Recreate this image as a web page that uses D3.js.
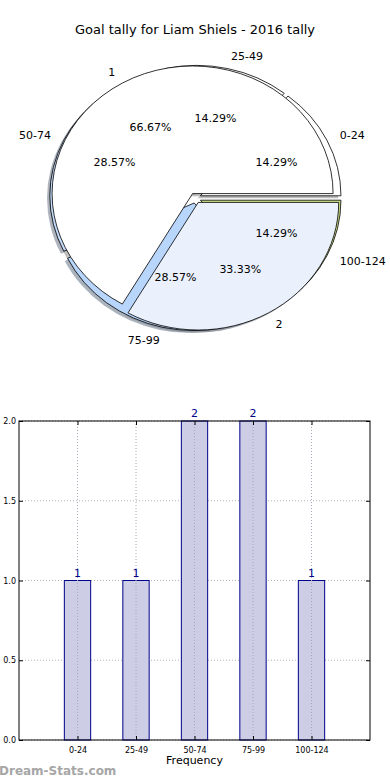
<!DOCTYPE html>
<html>
<head>
<meta charset="utf-8">
<script src="https://cdn.jsdelivr.net/npm/d3@7"></script>
<style>
  body { margin: 0; background: #fff; }
  text { font-family: "DejaVu Sans", sans-serif; }
</style>
</head>
<body>
<script>
// data
var bins = ["0-24", "25-49", "50-74", "75-99", "100-124"];
var binCounts = [1, 1, 2, 2, 1];
var tallyLabels = ["1", "2"];
var tallyCounts = [2, 1];
var yTicks = [0, 0.5, 1, 1.5, 2];

// colours
var outerColors = ["#ffffff", "#ffffff", "#c4dbf9", "#b8d5fb", "#cddf86"];
var innerColors = ["#ffffff", "#eaf1fd"];

var svg = d3.select("body").append("svg")
    .attr("width", 390).attr("height", 780);

svg.append("text")
    .attr("x", 195).attr("y", 34)
    .attr("text-anchor", "middle")
    .style("font-size", "13px")
    .text("Goal tally for Liam Shiels - 2016 tally");

/* ---------- pie (squashed, matplotlib style) ---------- */
var cx = 195.4, cy = 198, rx = 140.5, ry = 127.6;
var explode = 0.04;

var pie = d3.pie().sort(null).value(function(d) { return d; })
    .startAngle(Math.PI / 2).endAngle(Math.PI / 2 - 2 * Math.PI);
var arc = d3.arc().innerRadius(0).outerRadius(1);

function layout(values, labels, colors) {
    var total = d3.sum(values);
    return pie(values).map(function(a, i) {
        var m = (a.startAngle + a.endAngle) / 2;
        return {
            arc: a, label: labels[i], color: colors[i],
            pct: (100 * values[i] / total).toFixed(2) + "%",
            sx: Math.sin(m), sy: -Math.cos(m),
            ox: explode * Math.sin(m) * rx,
            oy: -explode * Math.cos(m) * ry
        };
    });
}

var outer = layout(binCounts, bins, outerColors);
var inner = layout(tallyCounts, tallyLabels, innerColors);

var shadowG = svg.append("g");
var outerG = svg.append("g");
var innerG = svg.append("g");
var labelG = svg.append("g");

function drawPie(slices, g) {
    shadowG.selectAll(null).data(slices).enter().append("path")
        .attr("d", function(d) { return arc(d.arc); })
        .attr("transform", function(d) {
            return "translate(" + (cx + d.ox - 0.02 * rx) + "," + (cy + d.oy + 0.02 * ry) + ") scale(" + rx + "," + ry + ")";
        })
        .attr("fill", function(d) { return d3.rgb(d.color).darker(1.7); })
        .attr("opacity", 0.55);

    g.selectAll(null).data(slices).enter().append("path")
        .attr("d", function(d) { return arc(d.arc); })
        .attr("transform", function(d) {
            return "translate(" + (cx + d.ox) + "," + (cy + d.oy) + ") scale(" + rx + "," + ry + ")";
        })
        .attr("fill", function(d) { return d.color; })
        .attr("stroke", "#000")
        .attr("stroke-width", 0.8)
        .attr("vector-effect", "non-scaling-stroke");

    labelG.selectAll(null).data(slices).enter().append("text")
        .attr("x", function(d) { return cx + d.ox + 1.1 * rx * d.sx; })
        .attr("y", function(d) { return cy + d.oy + 1.1 * ry * d.sy; })
        .attr("dy", "0.35em")
        .attr("text-anchor", function(d) { return d.sx > 0 ? "start" : "end"; })
        .style("font-size", "11px")
        .text(function(d) { return d.label; });

    labelG.selectAll(null).data(slices).enter().append("text")
        .attr("x", function(d) { return cx + d.ox + 0.6 * rx * d.sx; })
        .attr("y", function(d) { return cy + d.oy + 0.6 * ry * d.sy; })
        .attr("dy", "0.35em")
        .attr("text-anchor", "middle")
        .style("font-size", "11px")
        .text(function(d) { return d.pct; });
}

drawPie(outer, outerG);
drawPie(inner, innerG);

/* ---------- bar chart ---------- */
var plotL = 19, plotR = 370, plotT = 421, plotB = 740;
var x = d3.scaleLinear().domain([-1, bins.length]).range([plotL, plotR]);
var y = d3.scaleLinear().domain([0, 2]).range([plotB, plotT]);
var bw = x(0.225) - x(-0.225);

var chart = svg.append("g");

// grid
chart.selectAll(null).data(yTicks).enter().append("line")
    .attr("x1", plotL).attr("x2", plotR)
    .attr("y1", function(d) { return y(d); }).attr("y2", function(d) { return y(d); })
    .attr("stroke", "#b4b4b4").attr("stroke-width", 1).attr("stroke-dasharray", "1,2");

chart.selectAll("rect.bar").data(binCounts).enter().append("rect")
    .attr("class", "bar")
    .attr("x", function(d, i) { return x(i) - bw / 2; })
    .attr("y", function(d) { return y(d); })
    .attr("width", bw)
    .attr("height", function(d) { return y(0) - y(d); })
    .attr("fill", "#cdcde5")
    .attr("stroke", "#00008b").attr("stroke-width", 1);

chart.selectAll(null).data(bins).enter().append("line")
    .attr("x1", function(d, i) { return x(i); }).attr("x2", function(d, i) { return x(i); })
    .attr("y1", plotT).attr("y2", plotB)
    .attr("stroke", "#a8a8b8").attr("stroke-width", 1).attr("stroke-dasharray", "1,2");

chart.selectAll(null).data(binCounts).enter().append("text")
    .attr("x", function(d, i) { return x(i); })
    .attr("y", function(d) { return y(d) - 4; })
    .attr("text-anchor", "middle")
    .attr("fill", "#00008b")
    .style("font-size", "11px")
    .text(function(d) { return d; });

chart.append("rect")
    .attr("x", plotL).attr("y", plotT)
    .attr("width", plotR - plotL).attr("height", plotB - plotT)
    .attr("fill", "none").attr("stroke", "#000").attr("stroke-width", 1);

// axes with inward ticks
var yAxis = d3.axisLeft(y).tickValues(yTicks).tickFormat(d3.format(".1f"))
    .tickSizeInner(-4).tickSizeOuter(0).tickPadding(3);
chart.append("g").attr("transform", "translate(" + plotL + ",0)").call(yAxis)
    .call(function(g) { g.select(".domain").remove(); });
chart.append("g").attr("transform", "translate(" + plotR + ",0)")
    .call(d3.axisRight(y).tickValues(yTicks).tickSizeInner(-4).tickSizeOuter(0).tickFormat(""))
    .call(function(g) { g.select(".domain").remove(); });

var xAxis = d3.axisBottom(x).tickValues(d3.range(bins.length))
    .tickFormat(function(i) { return bins[i]; })
    .tickSizeInner(-4).tickSizeOuter(0).tickPadding(7);
chart.append("g").attr("transform", "translate(0," + plotB + ")").call(xAxis)
    .call(function(g) { g.select(".domain").remove(); });
chart.append("g").attr("transform", "translate(0," + plotT + ")")
    .call(d3.axisTop(x).tickValues(d3.range(bins.length)).tickSizeInner(-4).tickSizeOuter(0).tickFormat(""))
    .call(function(g) { g.select(".domain").remove(); });

chart.selectAll(".tick text")
    .style("font-family", "DejaVu Sans, sans-serif")
    .style("font-size", "8px").attr("fill", "#000");
chart.selectAll(".tick line").attr("stroke", "#000");

svg.append("text")
    .attr("x", (plotL + plotR) / 2).attr("y", 764)
    .attr("text-anchor", "middle")
    .style("font-size", "11px")
    .text("Frequency");

svg.append("text")
    .attr("x", -1).attr("y", 775)
    .attr("fill", "#a6a6a6")
    .style("font-size", "12px")
    .style("font-weight", "bold")
    .text("Dream-Stats.com");
</script>
</body>
</html>
